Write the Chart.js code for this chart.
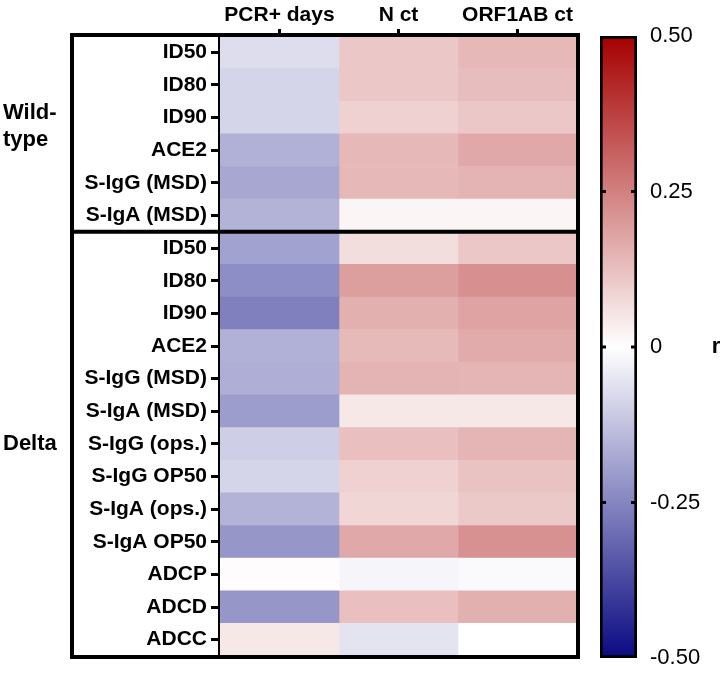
<!DOCTYPE html>
<html>
<head>
<meta charset="utf-8">
<script src="https://cdn.jsdelivr.net/npm/chart.js@4.4.0/dist/chart.umd.min.js"></script>
<style>
  body { margin: 0; background: #fff; }
  #wrap { position: relative; width: 722px; height: 675px; }
  canvas { position: absolute; top: 0; }
</style>
</head>
<body>
<div id="wrap">
  <canvas id="heat" width="722" height="675" style="left:0"></canvas>
  <canvas id="scale" width="132" height="675" style="left:590px"></canvas>
</div>
<script>
const columns = ['PCR+ days', 'N ct', 'ORF1AB ct'];
const rowLabels = [
  'ID50', 'ID80', 'ID90', 'ACE2', 'S-IgG (MSD)', 'S-IgA (MSD)',
  'ID50', 'ID80', 'ID90', 'ACE2', 'S-IgG (MSD)', 'S-IgA (MSD)',
  'S-IgG (ops.)', 'S-IgG OP50', 'S-IgA (ops.)', 'S-IgA OP50', 'ADCP', 'ADCD', 'ADCC'
];
// correlation r per row, one array per column
const pcrDays  = [-0.07, -0.085, -0.085, -0.16, -0.18, -0.155, -0.19, -0.23, -0.26, -0.16, -0.165, -0.2, -0.1, -0.085, -0.155, -0.215, 0.005, -0.215, 0.045];
const nCt      = [0.11, 0.11, 0.09, 0.14, 0.14, 0.02, 0.065, 0.19, 0.155, 0.135, 0.15, 0.045, 0.125, 0.09, 0.08, 0.17, -0.02, 0.125, -0.055];
const orf1abCt = [0.14, 0.13, 0.11, 0.17, 0.15, 0.02, 0.11, 0.22, 0.18, 0.165, 0.145, 0.045, 0.145, 0.12, 0.105, 0.215, -0.01, 0.155, 0.0];
const wildTypeCount = 6;
const scaleTicks = [-0.5, -0.25, 0, 0.25, 0.5];

function colorFor(v) {
  const t = Math.min(1, Math.abs(v) / 0.5);
  const end = v >= 0 ? [165, 0, 0] : [10, 10, 130];
  const c = end.map(e => Math.round(255 + (e - 255) * t));
  return `rgb(${c[0]},${c[1]},${c[2]})`;
}

const values = [pcrDays, nCt, orf1abCt];
const boldFont = { family: 'Arial', size: 21, weight: 'bold' };

const framePlugin = {
  id: 'frame',
  afterDraw(chart) {
    const ctx = chart.ctx;
    const { top, bottom, right } = chart.chartArea;
    const y = chart.scales.y;
    const split = (y.getPixelForValue(wildTypeCount - 1) + y.getPixelForValue(wildTypeCount)) / 2;
    ctx.save();
    ctx.strokeStyle = '#000';
    ctx.lineWidth = 4;
    ctx.strokeRect(72, top - 1, right + 1 - 72, bottom + 1 - (top - 1));
    ctx.beginPath();
    ctx.moveTo(72, split);
    ctx.lineTo(right + 1, split);
    ctx.stroke();
    ctx.fillStyle = '#000';
    ctx.font = 'bold 22px Arial';
    ctx.textAlign = 'left';
    ctx.textBaseline = 'middle';
    ctx.fillText('Wild-', 3, 113);
    ctx.fillText('type', 3, 140);
    ctx.fillText('Delta', 3, y.getPixelForValue(12));
    ctx.restore();
  }
};

new Chart(document.getElementById('heat'), {
  type: 'bar',
  data: {
    labels: rowLabels,
    datasets: columns.map((name, c) => ({
      label: name,
      data: rowLabels.map(() => [c, c + 1]),
      backgroundColor: values[c].map(colorFor),
      borderWidth: 0,
      grouped: false,
      barPercentage: 1,
      categoryPercentage: 1,
      xAxisID: 'x',
      yAxisID: 'y'
    }))
  },
  options: {
    responsive: false,
    animation: false,
    indexAxis: 'y',
    layout: { padding: { left: 70, top: 0, right: 145, bottom: 19 } },
    plugins: { legend: { display: false }, tooltip: { enabled: false } },
    scales: {
      x: { type: 'linear', min: 0, max: 3, display: false },
      xTop: {
        type: 'category',
        labels: columns,
        position: 'top',
        offset: true,
        grid: { offset: false, drawOnChartArea: false, tickLength: 7, lineWidth: 3, color: '#000' },
        border: { display: true, width: 4, color: '#000' },
        ticks: { color: '#000', font: boldFont, padding: 1, maxRotation: 0 },
        afterFit(s) { s.height = 36; }
      },
      y: {
        type: 'category',
        position: 'left',
        offset: true,
        grid: { offset: false, drawOnChartArea: false, tickLength: 9, lineWidth: 3, color: '#000' },
        border: { width: 4, color: '#000' },
        ticks: { color: '#000', font: boldFont, padding: 4, autoSkip: false },
        afterFit(s) { s.width = 150; }
      }
    }
  },
  plugins: [framePlugin]
});

const scalePlugin = {
  id: 'scaleMarks',
  afterDatasetsDraw(chart) {
    const ctx = chart.ctx;
    const { left, right } = chart.chartArea;
    const y = chart.scales.y;
    ctx.save();
    ctx.strokeStyle = '#000';
    ctx.lineWidth = 3;
    [-0.25, 0, 0.25].forEach(v => {
      const py = y.getPixelForValue(v);
      ctx.beginPath();
      ctx.moveTo(left, py); ctx.lineTo(left + 6, py);
      ctx.moveTo(right - 6, py); ctx.lineTo(right, py);
      ctx.stroke();
    });
    ctx.fillStyle = '#000';
    ctx.font = 'bold 22px Arial';
    ctx.textAlign = 'center';
    ctx.textBaseline = 'middle';
    ctx.fillText('r', 126, y.getPixelForValue(0));
    ctx.restore();
  }
};

new Chart(document.getElementById('scale'), {
  type: 'bar',
  data: {
    labels: ['r'],
    datasets: [{
      data: [[scaleTicks[0], scaleTicks[scaleTicks.length - 1]]],
      backgroundColor(context) {
        const chart = context.chart;
        if (!chart.chartArea) return null;
        const y = chart.scales.y;
        const g = chart.ctx.createLinearGradient(0, y.getPixelForValue(-0.5), 0, y.getPixelForValue(0.5));
        scaleTicks.forEach(v => g.addColorStop((v + 0.5), colorFor(v)));
        return g;
      },
      borderColor: '#000',
      borderWidth: 3,
      borderSkipped: false,
      barPercentage: 1,
      categoryPercentage: 1
    }]
  },
  options: {
    responsive: false,
    animation: false,
    layout: { padding: { left: 10, top: 36, right: 0, bottom: 17 } },
    plugins: { legend: { display: false }, tooltip: { enabled: false } },
    scales: {
      x: { display: false },
      y: {
        type: 'linear',
        position: 'right',
        min: -0.5,
        max: 0.5,
        afterBuildTicks(s) { s.ticks = scaleTicks.map(v => ({ value: v })); },
        grid: { display: false },
        border: { display: false },
        ticks: {
          color: '#000',
          font: { family: 'Arial', size: 22 },
          padding: 5,
          callback: v => Math.abs(v) < 1e-9 ? '0' : v.toFixed(2)
        },
        afterFit(s) {
          s.width = 85;
          s.paddingTop = 0;
          s.paddingBottom = 0;
        }
      }
    }
  },
  plugins: [scalePlugin]
});
</script>
</body>
</html>
